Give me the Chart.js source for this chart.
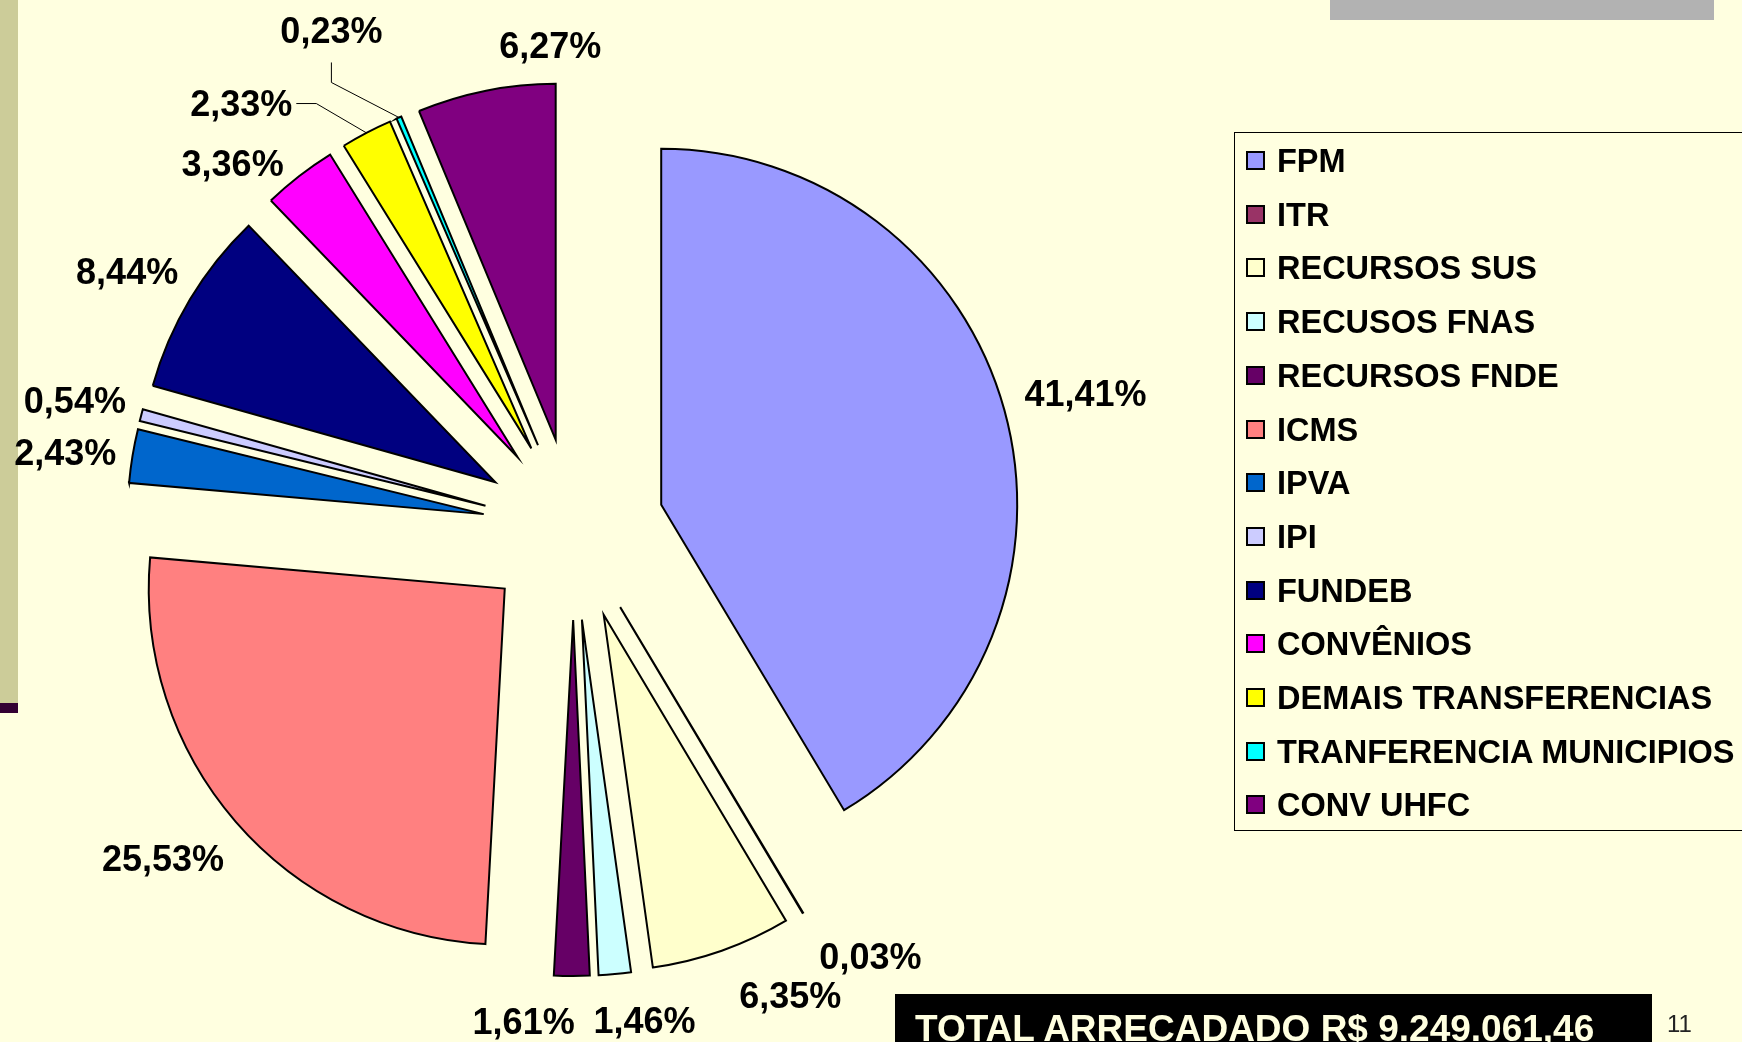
<!DOCTYPE html>
<html>
<head>
<meta charset="utf-8">
<title>Arrecadação</title>
<script src="https://cdn.jsdelivr.net/npm/chart.js@4.4.0/dist/chart.umd.min.js"></script>
<style>
  html, body { margin: 0; padding: 0; background: #FFFFE0; overflow: hidden; }
  #slide { position: relative; width: 1742px; height: 1042px; background: #FFFFE0; overflow: hidden;
           font-family: "Liberation Sans", Arial, sans-serif; }
  #chartBox { position: absolute; left: 0; top: 0; width: 1742px; height: 1042px; }
  .strip { position: absolute; left: 0; top: 0; width: 18px; height: 703px; background: #CCCC99; }
  .stripEnd { position: absolute; left: 0; top: 703px; width: 18px; height: 10px; background: #330033; }
  .grayBar { position: absolute; left: 1330px; top: 0; width: 384px; height: 20px; background: #B2B2B2; }
  #legend { position: absolute; left: 1234px; top: 132px; width: 540px; height: 699px;
            border: 1px solid #000; box-sizing: border-box; }
  .item { position: absolute; left: 0; height: 54px; line-height: 54px; white-space: nowrap;
          font-weight: bold; font-size: 32.5px; color: #000; }
  .sw { position: absolute; left: 11px; top: 17px; width: 19px; height: 19px; border: 2px solid #000;
        box-sizing: border-box; }
  .txt { position: absolute; left: 42px; top: 0; }
  #total { position: absolute; left: 895px; top: 994px; width: 757px; height: 60px; background: #000; }
  #total span { position: absolute; left: 20px; top: 16px; font-size: 37px; line-height: 37px;
                font-weight: bold; color: #FFFFE0; white-space: nowrap; }
  #page { position: absolute; left: 1667px; top: 1012px; font-size: 24px; line-height: 24px; color: #222; }
</style>
</head>
<body>
<div id="slide">
  <div class="strip"></div>
  <div class="stripEnd"></div>
  <div class="grayBar"></div>
  <div id="chartBox"><canvas id="pieChart"></canvas></div>
  <div id="legend"></div>
  <div id="total"><span>TOTAL ARRECADADO R$ 9.249.061,46</span></div>
  <div id="page">11</div>
</div>
<script>
// dados (percentuais)
const categories = ['FPM', 'ITR', 'RECURSOS SUS', 'RECUSOS FNAS', 'RECURSOS FNDE', 'ICMS', 'IPVA', 'IPI',
  'FUNDEB', 'CONVÊNIOS', 'DEMAIS TRANSFERENCIAS', 'TRANFERENCIA MUNICIPIOS', 'CONV UHFC'];
const percents = [41.41, 0.03, 6.35, 1.46, 1.61, 25.53, 2.43, 0.54, 8.44, 3.36, 2.33, 0.23, 6.27];
const colors = ['#9999FF', '#993366', '#FFFFCC', '#CCFFFF', '#660066', '#FF8080', '#0066CC', '#CCCCFF',
  '#000080', '#FF00FF', '#FFFF00', '#00FFFF', '#800080'];

// ajustes de layout dos rótulos (deslocamento em px a partir da posição radial)
const EXPLODE = 91;
const LABEL_GAP = 50;
const labelShift = [[33, -3], [42, 0], [52, -3], [25, -4], [-48, -5], [-35, 4], [-18, 4], [-18, -2],
  [-20, -3], [-36, 27], [-102, 15], [-48, -41], [74, 3]];
const leaderFrom = {10: 'right', 11: 'bottom'};

function fmtPct(v) {
  return v.toFixed(2).replace('.', ',') + '%';
}

// legenda em HTML
const legend = document.getElementById('legend');
categories.forEach((name, i) => {
  const row = document.createElement('div');
  row.className = 'item';
  row.style.top = (1 + 53.7 * i) + 'px';
  row.innerHTML = '<div class="sw" style="background:' + colors[i] + '"></div><div class="txt"></div>';
  row.querySelector('.txt').textContent = name;
  legend.appendChild(row);
});

// fatias destacadas (pizza explodida)
const explodePlugin = {
  id: 'explode',
  beforeDatasetsDraw(chart) {
    const area = chart.chartArea;
    const cx = (area.left + area.right) / 2;
    const cy = (area.top + area.bottom) / 2;
    chart.getDatasetMeta(0).data.forEach(arc => {
      const mid = (arc.startAngle + arc.endAngle) / 2;
      arc.x = cx + Math.cos(mid) * EXPLODE;
      arc.y = cy + Math.sin(mid) * EXPLODE;
    });
  }
};

// rótulos de porcentagem
const labelPlugin = {
  id: 'sliceLabels',
  afterDatasetsDraw(chart) {
    const ctx = chart.ctx;
    const size = 36;
    ctx.save();
    ctx.font = 'bold ' + size + 'px "Liberation Sans", Arial, sans-serif';
    ctx.fillStyle = '#000';
    ctx.strokeStyle = '#000';
    ctx.lineWidth = 1;
    ctx.textAlign = 'center';
    ctx.textBaseline = 'alphabetic';
    chart.getDatasetMeta(0).data.forEach((arc, i) => {
      const mid = (arc.startAngle + arc.endAngle) / 2;
      const r = arc.outerRadius + LABEL_GAP;
      const x = arc.x + Math.cos(mid) * r + labelShift[i][0];
      const y = arc.y + Math.sin(mid) * r + labelShift[i][1];
      const text = fmtPct(percents[i]);
      ctx.fillText(text, x, y + size * 0.358);

      if (leaderFrom[i]) {
        const w = ctx.measureText(text).width;
        const ox = arc.x + Math.cos(mid) * arc.outerRadius;
        const oy = arc.y + Math.sin(mid) * arc.outerRadius;
        let sx, sy, ex, ey;
        if (leaderFrom[i] === 'right') {
          sx = x + w / 2 + 4; sy = y; ex = sx + 20; ey = sy;
        } else {
          sx = x; sy = y + 32; ex = sx; ey = sy + 20;
        }
        ctx.beginPath();
        ctx.moveTo(sx, sy);
        ctx.lineTo(ex, ey);
        ctx.lineTo(ox, oy);
        ctx.stroke();
      }
    });
    ctx.restore();
  }
};

const ctx = document.getElementById('pieChart').getContext('2d');
new Chart(ctx, {
  type: 'pie',
  data: {
    labels: categories,
    datasets: [{
      data: percents,
      backgroundColor: colors,
      borderColor: '#000',
      borderWidth: 2,
      borderJoinStyle: 'miter'
    }]
  },
  options: {
    responsive: true,
    maintainAspectRatio: false,
    animation: false,
    events: [],
    radius: 356,
    layout: { padding: { left: 0, right: 595, top: 16, bottom: 0 } },
    plugins: {
      legend: { display: false },
      tooltip: { enabled: false },
      title: { display: false }
    }
  },
  plugins: [explodePlugin, labelPlugin]
});
</script>
</body>
</html>
